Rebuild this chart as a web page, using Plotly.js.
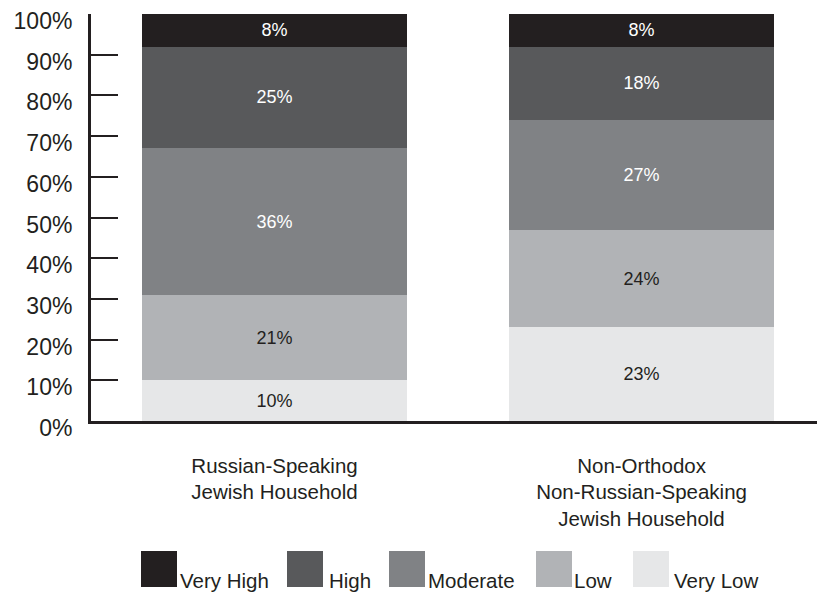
<!DOCTYPE html>
<html>
<head>
<meta charset="utf-8">
<script src="https://cdn.plot.ly/plotly-3.0.1.min.js"></script>
<style>html,body{margin:0;padding:0;background:#fff;}#chart{width:817px;height:592px;}</style>
</head>
<body>
<div id="chart"></div>
<script>
const categories = ["Russian-Speaking<br>Jewish Household", "Non-Orthodox<br>Non-Russian-Speaking<br>Jewish Household"];
const seriesNames = ["Very Low", "Low", "Moderate", "High", "Very High"];
const veryLow = [10, 23];
const low = [21, 24];
const moderate = [36, 27];
const high = [25, 18];
const veryHigh = [8, 8];
const yTickVals = [0,10,20,30,40,50,60,70,80,90,100];
const yTickText = ["0%","10%","20%","30%","40%","50%","60%","70%","80%","90%","100%"];

const seriesValues = [veryLow, low, moderate, high, veryHigh];
const colors = ["#e6e7e8", "#b1b3b6", "#808285", "#58595b", "#231f20"];
const textColors = ["#231f20", "#231f20", "#ffffff", "#ffffff", "#ffffff"];
const FONT = "Liberation Sans, Arial, sans-serif";

const traces = seriesNames.map((n, i) => ({
  type: "bar",
  name: n,
  x: [0, 1],
  y: seriesValues[i],
  width: 0.722,
  marker: {color: colors[i], line: {width: 0}},
  text: seriesValues[i].map(v => v + "%"),
  textposition: "inside",
  insidetextanchor: "middle",
  textfont: {family: FONT, size: 18, color: textColors[i]},
  hoverinfo: "skip",
  showlegend: false
}));

// pixel helpers for legend placement (plot area: x 91..817, y 14..421)
const L = 91, R = 817, T = 14, B = 421;
const px = x => (x - L) / (R - L);
const py = y => (B - y) / (B - T);

const legendOrder = ["Very High", "High", "Moderate", "Low", "Very Low"];
const legSqX = [141, 287, 389, 536, 633];
const legTxtX = [178, 327, 426, 572, 672];
const shapes = [], annotations = [];
legendOrder.forEach((n, k) => {
  const ci = seriesNames.indexOf(n);
  shapes.push({type: "rect", xref: "paper", yref: "paper",
    x0: px(legSqX[k]), x1: px(legSqX[k] + 36), y0: py(587), y1: py(551),
    fillcolor: colors[ci], line: {width: 0}});
  annotations.push({xref: "paper", yref: "paper", x: px(legTxtX[k]), y: py(580),
    xanchor: "left", yanchor: "middle", text: n, showarrow: false,
    font: {family: FONT, size: 20.5, color: "#231f20"}});
});

const layout = {
  width: 817, height: 592,
  margin: {l: L, r: 0, t: T, b: 592 - B, pad: 0},
  paper_bgcolor: "#ffffff", plot_bgcolor: "#ffffff",
  barmode: "stack",
  showlegend: false,
  font: {family: FONT, color: "#231f20"},
  xaxis: {
    range: [-0.5, 1.478],
    tickvals: [0, 1], ticktext: categories,
    ticks: "", showgrid: false, zeroline: false,
    showline: true, linecolor: "#231f20", linewidth: 3,
    tickfont: {family: FONT, size: 20.5, color: "#231f20"},
    ticklabelstandoff: 24,
    fixedrange: true
  },
  yaxis: {
    range: [0, 100],
    tickmode: "array",
    tickvals: yTickVals, ticktext: yTickText,
    ticks: "inside", ticklen: 27, tickwidth: 2, tickcolor: "#231f20",
    showgrid: false, zeroline: false,
    showline: true, linecolor: "#231f20", linewidth: 3,
    tickfont: {family: FONT, size: 23, color: "#231f20"},
    ticklabelshift: 7,
    ticklabelstandoff: 11,
    fixedrange: true
  },
  shapes: shapes,
  annotations: annotations
};

Plotly.newPlot("chart", traces, layout, {displayModeBar: false, staticPlot: true});
</script>
</body>
</html>
